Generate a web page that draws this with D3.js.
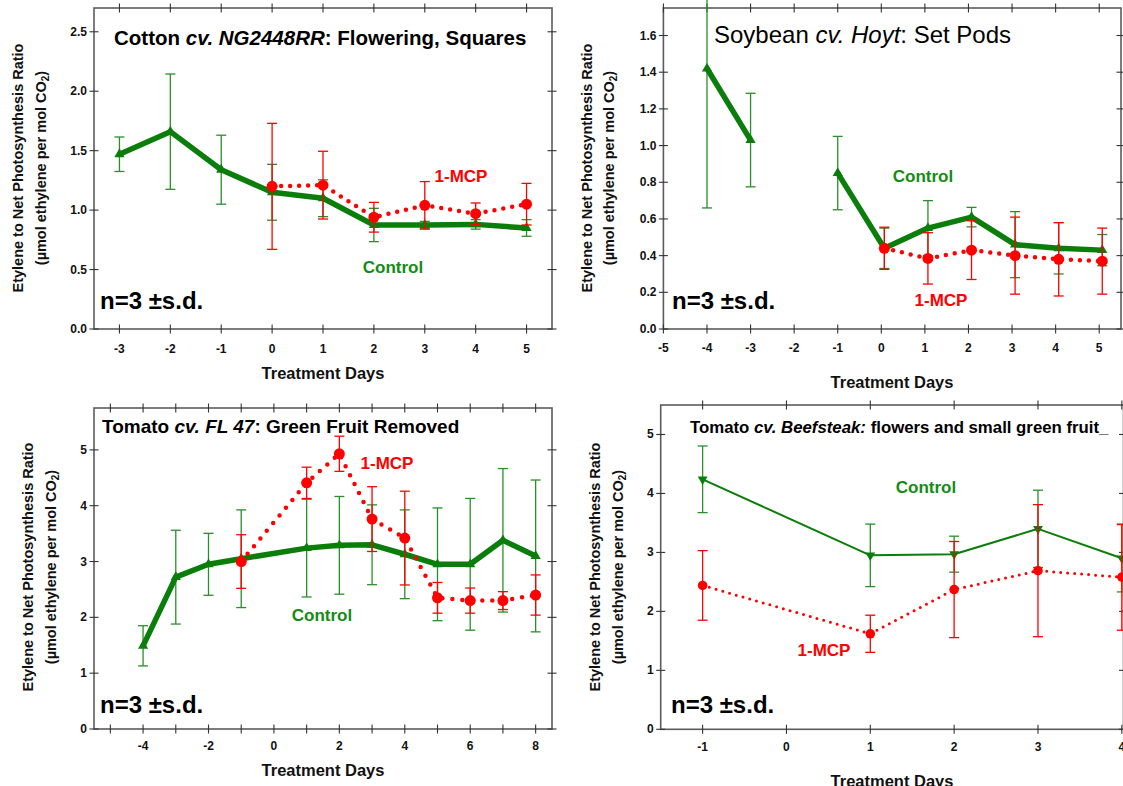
<!DOCTYPE html>
<html>
<head>
<meta charset="utf-8">
<script src="https://cdn.jsdelivr.net/npm/d3@7"></script>
<style>
    body { margin: 0; background: #fff; overflow: hidden; }
    text { font-family: "Liberation Sans", Arial, sans-serif; }
</style>
</head>
<body>
<svg id="chart" width="1123" height="786"></svg>
<script>
// ---- data ----
// Cotton cv. NG2448RR
const cottonControlDays = [-3, -2, -1, 0, 1, 2, 3, 4, 5];
const cottonControl = [1.47, 1.66, 1.34, 1.15, 1.10, 0.875, 0.875, 0.88, 0.85];
const cottonControlSd = [0.145, 0.485, 0.29, 0.235, 0.155, 0.14, 0.03, 0.04, 0.07];
const cottonMcpDays = [0, 1, 2, 3, 4, 5];
const cottonMcp = [1.20, 1.21, 0.94, 1.04, 0.97, 1.05];
const cottonMcpSd = [0.53, 0.285, 0.125, 0.20, 0.09, 0.175];
const cottonXTicks = [-3, -2, -1, 0, 1, 2, 3, 4, 5];
const cottonYTicks = [0, 0.5, 1.0, 1.5, 2.0, 2.5];

// Soybean cv. Hoyt (no reading on day -2, so the line breaks there)
const soyControlDays = [-4, -3, -2, -1, 0.07, 1.07, 2.07, 3.07, 4.07, 5.07];
const soyControl = [1.42, 1.03, null, 0.85, 0.44, 0.55, 0.61, 0.46, 0.44, 0.43];
const soyControlSd = [0.76, 0.255, null, 0.20, 0.11, 0.15, 0.053, 0.18, 0.14, 0.085];
const soyMcpDays = [0.07, 1.07, 2.07, 3.07, 4.07, 5.07];
const soyMcp = [0.44, 0.385, 0.43, 0.40, 0.38, 0.37];
const soyMcpSd = [0.115, 0.14, 0.16, 0.21, 0.20, 0.18];
const soyXTicks = [-5, -4, -3, -2, -1, 0, 1, 2, 3, 4, 5];
const soyYTicks = [0, 0.2, 0.4, 0.6, 0.8, 1.0, 1.2, 1.4, 1.6];

// Tomato cv. FL 47
const fl47ControlDays = [-4, -3, -2, -1, 1, 2, 3, 4, 5, 6, 7, 8];
const fl47Control = [1.49, 2.72, 2.95, 3.05, 3.24, 3.29, 3.30, 3.13, 2.95, 2.95, 3.38, 3.10];
const fl47ControlSd = [0.36, 0.84, 0.555, 0.875, 0.875, 0.875, 0.715, 0.795, 1.01, 1.18, 1.285, 1.36];
const fl47McpDays = [-1, 1, 2, 3, 4, 5, 6, 7, 8];
const fl47Mcp = [3.00, 4.41, 4.93, 3.76, 3.42, 2.35, 2.30, 2.30, 2.40];
const fl47McpSd = [0.48, 0.28, 0.315, 0.58, 0.84, 0.275, 0.225, 0.16, 0.36];
const fl47XTicks = [-5, -4, -3, -2, -1, 0, 1, 2, 3, 4, 5, 6, 7, 8];
const fl47XLabels = [-4, -2, 0, 2, 4, 6, 8];
const fl47YTicks = [0, 1, 2, 3, 4, 5];

// Tomato cv. Beefsteak
const beefControlDays = [-1, 1, 2, 3, 4];
const beefControl = [4.24, 2.95, 2.97, 3.40, 2.90];
const beefControlSd = [0.565, 0.53, 0.305, 0.655, 0.57];
const beefMcpDays = [-1, 1, 2, 3, 4];
const beefMcp = [2.44, 1.62, 2.37, 2.69, 2.58];
const beefMcpSd = [0.59, 0.315, 0.815, 1.12, 0.90];
const beefXTicks = [-1, 0, 1, 2, 3, 4];
const beefYTicks = [0, 1, 2, 3, 4, 5];

const GREEN = "#0b7d0b";
const GREEN_ERR = "#2a8f2a";
const GREEN_TEXT = "#138c13";
const RED = "#ff0000";
const FRAME = "#5c5c5c";

const zip = (days, vals, sd) => days.map((d, i) => ({x: d, y: vals[i], sd: sd[i]}));
const has = d => d.y !== null;

const panels = [
    {
        box: {left: 94, right: 552, top: 8, bottom: 329},
        xDomain: [-3.5, 5.5], yDomain: [0, 2.7],
        xTicks: cottonXTicks, xLabels: cottonXTicks, yTicks: cottonYTicks, yFmt: d3.format(".1f"),
        title: [["Cotton ", false], ["cv. NG2448RR", true], [": Flowering, Squares", false]],
        titlePos: [114, 37], titleSize: 20.5, titleWeight: "bold",
        yTitleX: [18, 41], yTitleY: 168,
        xTitle: [323, 373], tickLabelDy: 20,
        nsd: [100, 309],
        control: zip(cottonControlDays, cottonControl, cottonControlSd),
        mcp: zip(cottonMcpDays, cottonMcp, cottonMcpSd),
        thick: true, dash: "0 9",
        mcpLabel: [461, 176], controlLabel: [393, 267]
    },
    {
        box: {left: 663.4, right: 1121, top: 8, bottom: 329},
        xDomain: [-5, 5.5], yDomain: [0, 1.75],
        xTicks: soyXTicks, xLabels: soyXTicks, yTicks: soyYTicks, yFmt: d3.format(".1f"),
        title: [["Soybean ", false], ["cv. Hoyt", true], [": Set Pods", false]],
        titlePos: [714, 34], titleSize: 24, titleWeight: "normal",
        yTitleX: [587, 609], yTitleY: 168,
        xTitle: [892, 382], tickLabelDy: 19,
        nsd: [672, 309],
        control: zip(soyControlDays, soyControl, soyControlSd),
        mcp: zip(soyMcpDays, soyMcp, soyMcpSd),
        thick: true, dash: "0 9",
        mcpLabel: [941, 300], controlLabel: [923, 176]
    },
    {
        box: {left: 94, right: 552, top: 408, bottom: 729},
        xDomain: [-5.5, 8.5], yDomain: [0, 5.75],
        xTicks: fl47XTicks, xLabels: fl47XLabels, yTicks: fl47YTicks, yFmt: d3.format("d"),
        title: [["Tomato ", false], ["cv. FL 47", true], [": Green Fruit Removed", false]],
        titlePos: [102, 426], titleSize: 19, titleWeight: "bold",
        yTitleX: [28, 51], yTitleY: 567,
        xTitle: [323, 770], tickLabelDy: 17,
        nsd: [100, 713],
        control: zip(fl47ControlDays, fl47Control, fl47ControlSd),
        mcp: zip(fl47McpDays, fl47Mcp, fl47McpSd),
        thick: true, dash: "0 10",
        mcpLabel: [387, 463], controlLabel: [322, 615]
    },
    {
        box: {left: 660.7, right: 1123.5, top: 405, bottom: 729.3},
        xDomain: [-1.5, 4.02], yDomain: [0, 5.5],
        xTicks: beefXTicks, xLabels: beefXTicks, yTicks: beefYTicks, yFmt: d3.format("d"),
        title: [["Tomato ", false], ["cv. Beefsteak:", true], [" flowers and small green fruit_", false]],
        titlePos: [690, 427], titleSize: 16.8, titleWeight: "bold",
        yTitleX: [595, 618], yTitleY: 567,
        xTitle: [892, 781], tickLabelDy: 18,
        nsd: [671, 713],
        control: zip(beefControlDays, beefControl, beefControlSd),
        mcp: zip(beefMcpDays, beefMcp, beefMcpSd),
        thick: false, dash: "0 7",
        mcpLabel: [824, 650], controlLabel: [926, 487]
    }
];

const svg = d3.select("#chart");

function drawErrors(g, data, x, y, color) {
    const e = g.append("g").attr("stroke", color).attr("stroke-width", 1.3);
    data.filter(has).forEach(d => {
        const x0 = x(d.x), yt = y(d.y + d.sd), yb = y(d.y - d.sd);
        e.append("line").attr("x1", x0).attr("x2", x0).attr("y1", yt).attr("y2", yb);
        e.append("line").attr("x1", x0 - 5).attr("x2", x0 + 5).attr("y1", yt).attr("y2", yt);
        e.append("line").attr("x1", x0 - 5).attr("x2", x0 + 5).attr("y1", yb).attr("y2", yb);
    });
}

function drawPanel(p) {
    const b = p.box;
    const g = svg.append("g");
    const x = d3.scaleLinear().domain(p.xDomain).range([b.left, b.right]);
    const y = d3.scaleLinear().domain(p.yDomain).range([b.bottom, b.top]);

    // frame
    g.append("rect")
        .attr("x", b.left).attr("y", b.top)
        .attr("width", b.right - b.left).attr("height", b.bottom - b.top)
        .attr("fill", "none").attr("stroke", FRAME).attr("stroke-width", 1.6);

    // ticks on all four sides, crossing the frame
    const tk = g.append("g").attr("stroke", "#333").attr("stroke-width", 1.1);
    p.xTicks.forEach(t => {
        [b.bottom, b.top].forEach(yy => {
            tk.append("line").attr("x1", x(t)).attr("x2", x(t)).attr("y1", yy - 4.5).attr("y2", yy + 4.5);
        });
    });
    p.yTicks.forEach(t => {
        [b.left, b.right].forEach(xx => {
            tk.append("line").attr("x1", xx - 4.5).attr("x2", xx + 4.5).attr("y1", y(t)).attr("y2", y(t));
        });
    });

    // tick labels
    g.append("g").selectAll("text").data(p.xLabels).join("text")
        .attr("x", d => x(d)).attr("y", b.bottom + p.tickLabelDy)
        .attr("text-anchor", "middle").attr("dominant-baseline", "central")
        .attr("font-size", 12).attr("font-weight", "bold").attr("fill", "#111")
        .text(d => d);
    g.append("g").selectAll("text").data(p.yTicks).join("text")
        .attr("x", b.left - 7).attr("y", d => y(d))
        .attr("text-anchor", "end").attr("dominant-baseline", "central")
        .attr("font-size", 12).attr("font-weight", "bold").attr("fill", "#111")
        .text(d => p.yFmt(d));

    // axis titles
    g.append("text")
        .attr("x", p.xTitle[0]).attr("y", p.xTitle[1])
        .attr("text-anchor", "middle").attr("dominant-baseline", "central")
        .attr("font-size", 16.5).attr("font-weight", "bold").attr("fill", "#111")
        .text("Treatment Days");

    g.append("text")
        .attr("transform", `translate(${p.yTitleX[0]},${p.yTitleY}) rotate(-90)`)
        .attr("text-anchor", "middle").attr("dominant-baseline", "central")
        .attr("font-size", 14.5).attr("font-weight", "bold").attr("fill", "#111")
        .text("Etylene to Net Photosynthesis Ratio");
    const l2 = g.append("text")
        .attr("transform", `translate(${p.yTitleX[1]},${p.yTitleY}) rotate(-90)`)
        .attr("text-anchor", "middle").attr("dominant-baseline", "central")
        .attr("font-size", 14.5).attr("font-weight", "bold").attr("fill", "#111");
    l2.append("tspan").text("(\u00b5mol ethylene per mol CO");
    l2.append("tspan").attr("font-size", 10).attr("dy", 4).text("2");
    l2.append("tspan").attr("dy", -4).text(")");

    // panel title
    const tt = g.append("text")
        .attr("x", p.titlePos[0]).attr("y", p.titlePos[1])
        .attr("dominant-baseline", "central")
        .attr("font-size", p.titleSize).attr("font-weight", p.titleWeight).attr("fill", "#000");
    p.title.forEach(([s, it]) => {
        tt.append("tspan").attr("font-style", it ? "italic" : "normal").text(s);
    });

    // control series
    const line = d3.line().defined(has).x(d => x(d.x)).y(d => y(d.y));
    drawErrors(g, p.control, x, y, GREEN_ERR);
    g.append("path").datum(p.control)
        .attr("d", line).attr("fill", "none").attr("stroke", GREEN)
        .attr("stroke-width", p.thick ? 5.5 : 2).attr("stroke-linejoin", "round");
    const tri = d3.symbol().type(d3.symbolTriangle).size(p.thick ? 45 : 42);
    g.append("g").selectAll("path").data(p.control.filter(has)).join("path")
        .attr("d", tri)
        .attr("transform", d => `translate(${x(d.x)},${y(d.y)})${p.thick ? "" : " rotate(180)"}`)
        .attr("fill", GREEN);

    // 1-MCP series
    drawErrors(g, p.mcp, x, y, RED);
    g.append("path").datum(p.mcp)
        .attr("d", line).attr("fill", "none").attr("stroke", RED)
        .attr("stroke-width", p.thick ? 4.5 : 3)
        .attr("stroke-dasharray", p.dash).attr("stroke-linecap", "round");
    g.append("g").selectAll("circle").data(p.mcp.filter(has)).join("circle")
        .attr("cx", d => x(d.x)).attr("cy", d => y(d.y))
        .attr("r", p.thick ? 5.5 : 4.8).attr("fill", RED);

    // labels
    g.append("text")
        .attr("x", p.mcpLabel[0]).attr("y", p.mcpLabel[1])
        .attr("text-anchor", "middle").attr("dominant-baseline", "central")
        .attr("font-size", 17).attr("font-weight", "bold").attr("fill", RED)
        .text("1-MCP");
    g.append("text")
        .attr("x", p.controlLabel[0]).attr("y", p.controlLabel[1])
        .attr("text-anchor", "middle").attr("dominant-baseline", "central")
        .attr("font-size", 17).attr("font-weight", "bold").attr("fill", GREEN_TEXT)
        .text("Control");

    g.append("text")
        .attr("x", p.nsd[0]).attr("y", p.nsd[1])
        .attr("font-family", "'Open Sans', sans-serif")
        .attr("font-size", 24).attr("font-weight", "bold").attr("fill", "#000")
        .text("n=3 \u00b1s.d.");
}

panels.forEach(drawPanel);
</script>
</body>
</html>
